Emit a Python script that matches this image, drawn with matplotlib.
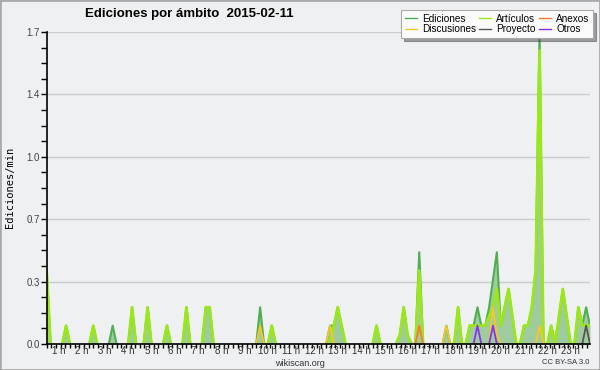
import matplotlib
matplotlib.use("Agg")
import matplotlib.pyplot as plt
import numpy as np
from matplotlib.lines import Line2D
from matplotlib.patches import Rectangle

# ---------------- data (10-minute slots, values in edits/min) ----------------
N_SLOTS = 141
hour_labels = [f"{h} h" for h in range(1, 24)]

ediciones_slot = [0, 5, 12, 17, 22, 26, 31, 36, 41, 42, 55, 58, 73, 74, 75, 76, 85,
                  91, 92, 93, 96, 103, 106, 109, 110, 111, 112, 113, 114, 115, 116,
                  117, 118, 119, 120, 123, 124, 125, 126, 127, 130, 132, 133, 134,
                  137, 138, 139, 140]
ediciones_val = [0.4, 0.1, 0.1, 0.1, 0.2, 0.2, 0.1, 0.2, 0.2, 0.2, 0.2, 0.1, 0.1, 0.1, 0.2, 0.1, 0.1,
                 0.05, 0.2, 0.05, 0.5, 0.1, 0.2, 0.1, 0.1, 0.2, 0.1, 0.1, 0.2, 0.35, 0.5,
                 0.1, 0.2, 0.3, 0.15, 0.1, 0.1, 0.2, 0.4, 1.7, 0.1, 0.15, 0.3, 0.15,
                 0.2, 0.1, 0.2, 0.1]

articulos_slot = [0, 5, 12, 22, 26, 31, 36, 41, 42, 58, 74, 75, 76, 85, 91, 92, 93, 96,
                  106, 109, 110, 111, 112, 113, 114, 115, 116, 117, 118, 119, 120,
                  123, 124, 125, 126, 127, 130, 132, 133, 134, 137, 138, 139, 140]
articulos_val = [0.4, 0.1, 0.1, 0.2, 0.2, 0.1, 0.2, 0.2, 0.2, 0.1, 0.1, 0.2, 0.1, 0.1, 0.05, 0.2, 0.05, 0.4,
                 0.2, 0.1, 0.1, 0.1, 0.1, 0.1, 0.15, 0.2, 0.3, 0.1, 0.2, 0.3, 0.15,
                 0.1, 0.1, 0.2, 0.4, 1.6, 0.1, 0.15, 0.3, 0.15, 0.2, 0.1, 0.1, 0.1]

anexos_slot = [96]
anexos_val = [0.1]

discusiones_slot = [55, 73, 103, 115, 116, 127]
discusiones_val = [0.1, 0.1, 0.1, 0.2, 0.05, 0.1]

proyecto_slot = [139]
proyecto_val = [0.1]

otros_slot = [111, 115]
otros_val = [0.1, 0.1]


def series(slots, vals):
    y = np.zeros(N_SLOTS)
    y[slots] = vals
    return y


def masked(y):
    nz = y > 0
    keep = nz.copy()
    keep[1:] |= nz[:-1]
    keep[:-1] |= nz[1:]
    return np.ma.masked_where(~keep, y)


t = np.arange(N_SLOTS) / 6.0
ed = series(ediciones_slot, ediciones_val)
art = series(articulos_slot, articulos_val)
anx = series(anexos_slot, anexos_val)
dis = series(discusiones_slot, discusiones_val)
pro = series(proyecto_slot, proyecto_val)
otr = series(otros_slot, otros_val)

BG = "#eff0f1"
C_ED = "#4fae4f"
C_ART = "#9be81a"
C_ANX = "#ff7733"
C_DIS = "#f5c825"
C_PRO = "#555555"
C_OTR = "#8833ee"
FONT = ["Liberation Sans", "DejaVu Sans"]

fig = plt.figure(figsize=(6, 3.7), dpi=100, facecolor=BG)
ax = fig.add_axes([46.7 / 600, 1 - 344 / 370, (590 - 46.7) / 600, (344 - 32) / 370])
ax.set_facecolor(BG)

ax.fill_between(t, ed, color="#9fcb9f", lw=0, zorder=2)
ax.plot(t, masked(ed), color=C_ED, lw=1.5, zorder=3)
ax.plot(t, masked(art), color=C_ART, lw=2.0, zorder=4)
ax.plot(t, masked(dis), color=C_DIS, lw=1.3, zorder=5)
ax.plot(t, masked(anx), color=C_ANX, lw=1.3, zorder=5)
ax.plot(t, masked(pro), color=C_PRO, lw=1.3, zorder=5)
ax.plot(t, masked(otr), color=C_OTR, lw=1.3, zorder=5)

ax.set_xlim(0, (N_SLOTS - 1) / 6.0)
ax.set_ylim(0, 1.7)

yt = np.linspace(0, 1.7, 6)
ax.set_yticks(yt)
ax.set_yticklabels([f"{v:.1f}" for v in yt], family=FONT)
ax.set_yticks(np.linspace(0, 1.7, 21), minor=True)
ax.tick_params(axis="y", which="both", direction="out", length=4, width=1,
               labelsize=7, labelcolor="#444444", pad=1)

ax.set_xticks(np.arange(0, 23.4, 0.2))
ax.set_xticklabels([])
ax.tick_params(axis="x", which="major", direction="out", length=3, width=1)
ax.set_xticks(np.arange(1, 24) - 0.5, minor=True)
ax.set_xticklabels(hour_labels, minor=True, family=FONT)
ax.tick_params(axis="x", which="minor", length=0, labelsize=7, labelcolor="#333333", pad=1.5)

ax.yaxis.grid(True, which="major", color="#cccccc", lw=1)
ax.set_axisbelow(True)
for s in ("top", "right"):
    ax.spines[s].set_visible(False)
for s in ("left", "bottom"):
    ax.spines[s].set_color("black")
    ax.spines[s].set_linewidth(1.2)
    ax.spines[s].set_zorder(10)

fig.text(85 / 600, 1 - 14 / 370, "Ediciones por ámbito  2015-02-11",
         ha="left", va="center", fontsize=9.5, fontweight="bold",
         family=FONT)
fig.text(10 / 600, 1 - 187 / 370, "Ediciones/min", rotation=90, ha="center",
         va="center", fontsize=7.5, family="DejaVu Sans Mono")
fig.text(0.5, 1 - 363 / 370, "wikiscan.org", ha="center", va="center",
         fontsize=6.5, color="#333333", family=FONT)
fig.text(589 / 600, 1 - 363 / 370, "CC BY-SA 3.0", ha="right", va="center",
         fontsize=5.5, color="#333333", family=FONT)

handles = [Line2D([], [], color=c, lw=1) for c in
           (C_ED, C_DIS, C_ART, C_PRO, C_ANX, C_OTR)]
labels = ["Ediciones", "Discusiones", "Artículos", "Proyecto", "Anexos", "Otros"]
leg = fig.legend(handles, labels, ncol=3, loc="upper right",
                 bbox_to_anchor=(593 / 600, 1 - 10 / 370),
                 prop={"family": FONT, "size": 7.2},
                 frameon=True, fancybox=False, shadow=True, handlelength=1.2,
                 handletextpad=0.5, columnspacing=0.35, labelspacing=0.1,
                 borderpad=0.35, borderaxespad=0)
leg.get_frame().set_facecolor("#fbfbfb")
leg.get_frame().set_edgecolor("#aaaaaa")
leg.get_frame().set_linewidth(0.8)

fig.add_artist(Rectangle((0, 0), 1, 1, transform=fig.transFigure, fill=False,
                         edgecolor="#aaaaaa", lw=2))

fig.savefig("out.png", dpi=100, facecolor=BG)
